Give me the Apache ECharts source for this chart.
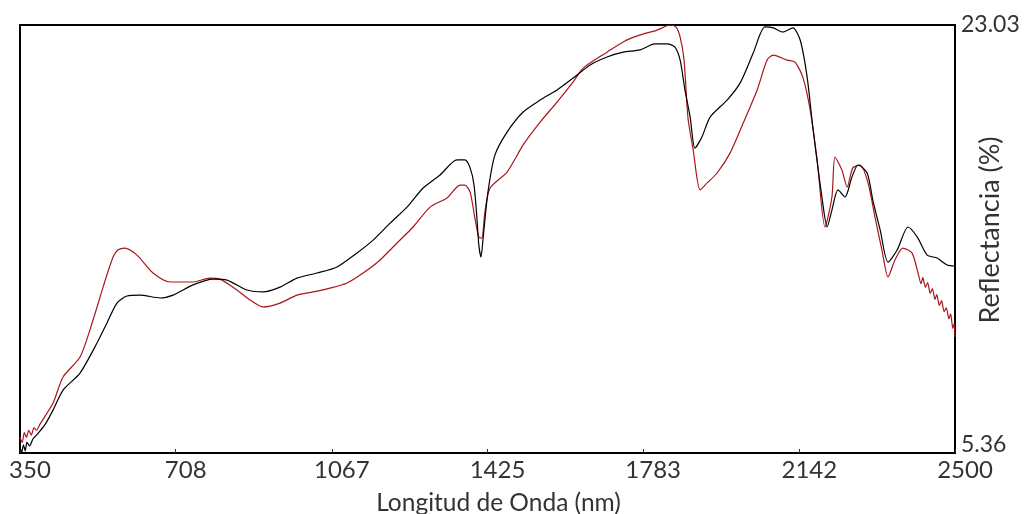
<!DOCTYPE html>
<html>
<head>
<meta charset="utf-8">
<script src="https://cdn.jsdelivr.net/npm/echarts@6/dist/echarts.min.js"></script>
<style>
html,body{margin:0;padding:0;background:#fff;}
#chart{width:1025px;height:514px;}
</style>
</head>
<body>
<div id="chart"></div>
<script>
// ---- data ----
var xTicks = [350, 708, 1067, 1425, 1783, 2142, 2500];
var yTicks = [5.36, 23.03];

var blackNm = [350,354,358,362,366,372,380,388,407,426,449,488,527,550,573,596,626,672,702,748,794,826,872,909,948,987,1033,1079,1125,1162,1201,1240,1277,1316,1355,1373,1385,1394,1401,1405,1410,1415,1426,1442,1470,1507,1546,1585,1622,1661,1700,1737,1776,1810,1838,1856,1868,1879,1891,1902,1918,1937,1976,2006,2036,2063,2082,2104,2127,2144,2160,2173,2194,2206,2217,2231,2247,2263,2277,2298,2311,2328,2346,2367,2392,2413,2436,2459,2482,2500];
var blackVal = [5.60,5.40,5.70,5.45,5.80,5.65,5.95,6.10,6.52,7.13,7.96,8.66,9.90,10.73,11.55,11.84,11.88,11.76,11.88,12.30,12.54,12.50,12.09,12.01,12.21,12.58,12.79,13.04,13.62,14.15,14.85,15.51,16.30,16.84,17.46,17.46,17.13,16.42,14.98,13.95,13.45,14.24,16.13,17.66,18.61,19.44,19.93,20.35,20.84,21.38,21.71,21.91,22.00,22.25,22.25,22.12,21.58,20.35,19.23,17.95,18.41,19.23,19.93,20.64,21.87,22.95,22.91,22.74,22.91,22.41,20.88,18.82,15.93,14.69,15.39,16.22,15.93,16.75,17.25,16.92,15.80,14.56,13.24,13.74,14.69,14.28,13.53,13.41,13.12,13.08];

var redNm = [350,355,360,365,370,376,382,388,396,426,449,488,518,541,564,575,591,619,656,695,748,787,810,849,879,909,948,987,1024,1063,1102,1139,1178,1217,1254,1293,1332,1362,1373,1385,1396,1405,1412,1419,1431,1470,1507,1546,1585,1622,1645,1700,1737,1776,1815,1845,1858,1868,1877,1886,1898,1914,1930,1953,1983,2013,2045,2068,2082,2114,2132,2150,2167,2183,2201,2217,2224,2240,2252,2265,2282,2300,2316,2332,2346,2362,2380,2401,2415,2422,2426,2432,2437,2443,2448,2454,2458,2464,2469,2475,2480,2486,2490,2495,2498,2500];
var redVal = [6.00,5.80,6.20,6.00,6.30,6.10,6.40,6.30,6.55,7.42,8.50,9.32,10.85,12.21,13.45,13.74,13.82,13.53,12.79,12.42,12.42,12.58,12.54,12.09,11.68,11.39,11.55,11.88,12.01,12.17,12.38,12.79,13.33,14.03,14.69,15.51,15.89,16.42,16.42,16.13,15.06,14.28,14.24,15.31,16.30,16.96,18.08,19.02,19.85,20.68,21.25,21.91,22.33,22.62,22.82,23.03,22.95,22.53,21.58,19.19,17.87,16.22,16.51,16.92,17.75,18.98,20.35,21.58,21.79,21.58,21.50,20.88,19.52,17.46,14.69,15.93,17.58,17.04,16.34,17.13,17.25,16.51,15.10,13.74,12.63,13.33,13.82,13.62,12.79,12.35,12.60,12.20,12.40,11.95,12.15,11.70,11.90,11.45,11.65,11.20,11.35,10.90,11.10,10.50,10.70,10.15];

function pairs(xs, ys){ return xs.map(function(x,i){ return [x, ys[i]]; }); }

var FONT = 'Lato';
var chart = echarts.init(document.getElementById('chart'), null, {renderer:'canvas'});
chart.setOption({
  animation: false,
  backgroundColor: '#fff',
  grid: { left: 20, right: 70, top: 25, bottom: 61, containLabel: false, outerBoundsMode: 'none',
          show: true, borderColor: '#000', borderWidth: 2, backgroundColor: 'transparent' },
  xAxis: {
    type: 'value', min: 350, max: 2500,
    name: 'Longitud de Onda (nm)', nameLocation: 'middle', nameGap: 38, nameMoveOverlap: false,
    nameTextStyle: { fontFamily: FONT, fontSize: 24.5, color: '#333', padding: [0,0,0,22] },
    axisLine: { show: false },
    axisTick: { show: true, inside: true, length: 4, customValues: xTicks, lineStyle: { color: '#333' } },
    axisLabel: { customValues: xTicks, fontFamily: FONT, fontSize: 24, color: '#333', margin: 5, padding: [0,0,0,20],
                 formatter: function(v){ return String(Math.round(v)); } },
    splitLine: { show: false }
  },
  yAxis: {
    type: 'value', min: 5.36, max: 23.03, position: 'right',
    name: 'Reflectancia (%)', nameLocation: 'middle', nameRotate: 90, nameGap: 22, nameMoveOverlap: false,
    nameTextStyle: { fontFamily: FONT, fontSize: 27, color: '#333', padding: [0,0,0,18] },
    axisLine: { show: false },
    axisTick: { show: false },
    axisLabel: {
      customValues: yTicks, fontFamily: FONT, fontSize: 23, color: '#333', margin: 6,
      formatter: function(v){ return v < 10 ? '{lo|' + v.toFixed(2) + '}' : '{hi|' + v.toFixed(2) + '}'; },
      rich: {
        lo: { fontFamily: FONT, fontSize: 23, color: '#333', padding: [0,0,16,0] },
        hi: { fontFamily: FONT, fontSize: 23, color: '#333' }
      }
    },
    splitLine: { show: false }
  },
  series: [
    { type: 'line', data: pairs(redNm, redVal), showSymbol: false, smooth: 0.25, lineStyle: { color: '#a8161c', width: 1.2 }, z: 2 },
    { type: 'line', data: pairs(blackNm, blackVal), showSymbol: false, smooth: 0.25, lineStyle: { color: '#000', width: 1.2 }, z: 3 }
  ]
});
</script>
</body>
</html>
